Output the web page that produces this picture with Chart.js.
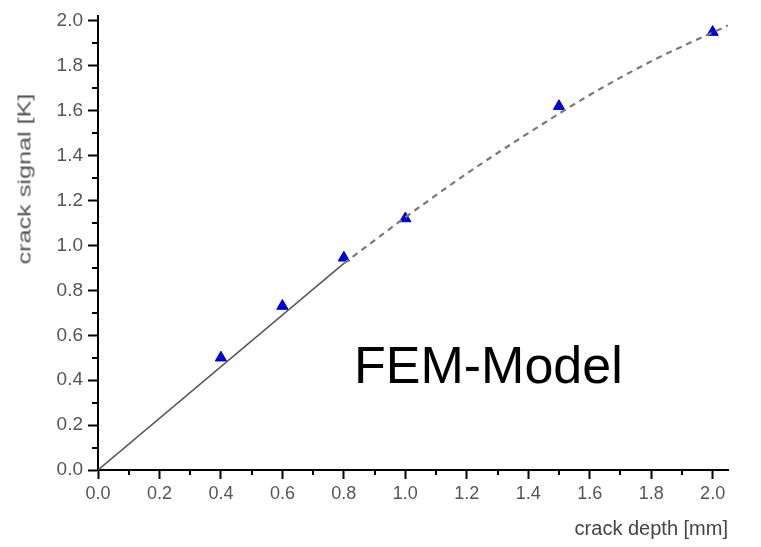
<!DOCTYPE html>
<html>
<head>
<meta charset="utf-8">
<script src="https://cdn.jsdelivr.net/npm/chart.js@4.4.1/dist/chart.umd.min.js"></script>
<style>
  body { margin: 0; background: #fff; }
  #wrap { position: relative; width: 761px; height: 547px; }
  #yTitle {
    position: absolute; left: 25px; top: 179px;
    font: 18px "Liberation Sans", Arial, sans-serif; color: #555;
    white-space: nowrap;
    transform: translate(-50%, -50%) rotate(-90deg) scaleX(1.4);
  }
  #femLabel {
    position: absolute; left: 354px; top: 339px;
    font: 52px "Liberation Sans", Arial, sans-serif; color: #000;
    white-space: nowrap; line-height: 1;
  }
</style>
</head>
<body>
<div id="wrap">
  <canvas id="chart"></canvas>
  <div id="yTitle">crack signal [K]</div>
  <div id="femLabel">FEM-Model</div>
</div>
<script>
// Measured points (triangles)
const depth = [0.4, 0.6, 0.8, 1.0, 1.5, 2.0];
const signal = [0.50, 0.73, 0.945, 1.12, 1.62, 1.95];

// Linear part of the model (solid)
const linX = [0, 0.8];
const linY = [0, 0.92];

// Extrapolated model curve (dashed)
const curveX = [0.8, 1.0, 1.2, 1.4, 1.6, 1.8, 2.05];
const curveY = [0.92, 1.125, 1.32, 1.50, 1.67, 1.82, 1.98];

// Axis ticks
const xTicks = [0, 0.2, 0.4, 0.6, 0.8, 1.0, 1.2, 1.4, 1.6, 1.8, 2.0];
const xTickLabels = ["0.0", "0.2", "0.4", "0.6", "0.8", "1.0", "1.2", "1.4", "1.6", "1.8", "2.0"];
const yTicks = [0, 0.2, 0.4, 0.6, 0.8, 1.0, 1.2, 1.4, 1.6, 1.8, 2.0];
const yTickLabels = ["0.0", "0.2", "0.4", "0.6", "0.8", "1.0", "1.2", "1.4", "1.6", "1.8", "2.0"];

const toXY = (xs, ys) => xs.map((x, i) => ({ x: x, y: ys[i] }));

// minor ticks halfway between the major ones
const minorTicks = {
  id: "minorTicks",
  afterDraw(chart) {
    const ctx = chart.ctx;
    const xs = chart.scales.x;
    const ys = chart.scales.y;
    const area = chart.chartArea;
    ctx.save();
    ctx.strokeStyle = "#000";
    ctx.lineWidth = 2;
    ctx.beginPath();
    for (let i = 0; i < xTicks.length - 1; i++) {
      const px = Math.round(xs.getPixelForValue((xTicks[i] + xTicks[i + 1]) / 2));
      ctx.moveTo(px, area.bottom);
      ctx.lineTo(px, area.bottom + 5);
    }
    for (let i = 0; i < yTicks.length - 1; i++) {
      const py = Math.round(ys.getPixelForValue((yTicks[i] + yTicks[i + 1]) / 2));
      ctx.moveTo(area.left, py);
      ctx.lineTo(area.left - 6, py);
    }
    ctx.stroke();
    ctx.restore();
  },
};

const tickFont = { family: "'Liberation Sans', Arial, sans-serif" };

new Chart(document.getElementById("chart"), {
  type: "scatter",
  data: {
    datasets: [
      {
        label: "model",
        data: toXY(linX, linY),
        showLine: true,
        borderColor: "#555",
        borderWidth: 1.5,
        pointRadius: 0,
      },
      {
        label: "extrapolation",
        data: toXY(curveX, curveY),
        showLine: true,
        borderColor: "#7a7a7a",
        borderWidth: 2.2,
        borderDash: [6, 5],
        cubicInterpolationMode: "monotone",
        pointRadius: 0,
      },
      {
        label: "measured",
        data: toXY(depth, signal),
        pointStyle: "triangle",
        pointRadius: 6.5,
        backgroundColor: "#0000cc",
        borderColor: "#0000cc",
        borderWidth: 1,
      },
    ],
  },
  options: {
    responsive: true,
    maintainAspectRatio: false,
    animation: false,
    layout: { padding: { left: 0, top: 14, right: 33, bottom: 0 } },
    plugins: {
      legend: { display: false },
      tooltip: { enabled: false },
    },
    scales: {
      x: {
        type: "linear",
        min: 0,
        max: 2.05,
        afterBuildTicks: (scale) => {
          scale.ticks = xTicks.map((v) => ({ value: v }));
        },
        afterFit: (scale) => {
          scale.height = 77;
        },
        border: { color: "#000", width: 2 },
        grid: {
          drawOnChartArea: false,
          drawTicks: true,
          tickLength: 9,
          tickWidth: 2,
          tickColor: "#000",
        },
        ticks: {
          autoSkip: false,
          maxRotation: 0,
          padding: 4,
          color: "#555",
          font: { ...tickFont, size: 18 },
          callback: (v, i) => xTickLabels[i],
        },
        title: {
          display: true,
          text: "crack depth [mm]",
          align: "end",
          color: "#444",
          font: { ...tickFont, size: 20 },
          padding: { top: 0, bottom: 6 },
        },
      },
      y: {
        type: "linear",
        min: 0,
        max: 2.02,
        afterBuildTicks: (scale) => {
          scale.ticks = yTicks.map((v) => ({ value: v }));
        },
        afterFit: (scale) => {
          scale.width = 98;
        },
        border: { color: "#000", width: 2 },
        grid: {
          drawOnChartArea: false,
          drawTicks: true,
          tickLength: 10,
          tickWidth: 2,
          tickColor: "#000",
        },
        ticks: {
          autoSkip: false,
          padding: 5,
          color: "#555",
          font: { ...tickFont, size: 19 },
          callback: (v, i) => yTickLabels[i],
        },
      },
    },
  },
  plugins: [minorTicks],
});
</script>
</body>
</html>
